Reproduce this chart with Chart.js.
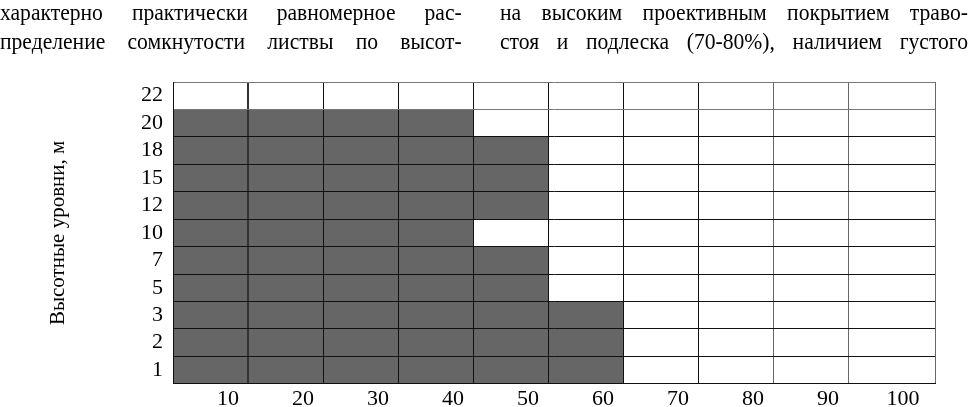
<!DOCTYPE html>
<html>
<head>
<meta charset="utf-8">
<script src="https://cdn.jsdelivr.net/npm/chart.js@4/dist/chart.umd.min.js"></script>
<style>
html,body{margin:0;padding:0;background:#fff;width:973px;height:407px;overflow:hidden;}
#c{position:absolute;left:0;top:0;}
.line{position:absolute;display:flex;justify-content:space-between;font-family:'Liberation Serif','Times New Roman',serif;font-size:24px;line-height:27px;color:#000;white-space:nowrap;transform:scaleX(0.9);transform-origin:0 0;}
</style>
</head>
<body>
<canvas id="c" width="973" height="407"></canvas>
<div class="line" style="left:0;top:-1px;width:513px;"><span>характерно</span><span>практически</span><span>равномерное</span><span>рас-</span></div>
<div class="line" style="left:0;top:28px;width:513px;"><span>пределение</span><span>сомкнутости</span><span>листвы</span><span>по</span><span>высот-</span></div>
<div class="line" style="left:500px;top:-1px;width:520px;"><span>на</span><span>высоким</span><span>проективным</span><span>покрытием</span><span>траво-</span></div>
<div class="line" style="left:500px;top:28px;width:520px;"><span>стоя</span><span>и</span><span>подлеска</span><span>(70-80%),</span><span>наличием</span><span>густого</span></div>
<script>
// Data
const heights = ['22','20','18','15','12','10','7','5','3','2','1'];
const closure = [0, 40, 50, 50, 50, 40, 50, 50, 60, 60, 60];
const xTickValues = [0, 10, 20, 30, 40, 50, 60, 70, 80, 90, 100];
const xMax = 101.6;
const yTitle = 'Высотные уровни, м';

const serif = "'Liberation Serif','Times New Roman',serif";

new Chart(document.getElementById('c'), {
  type: 'bar',
  data: {
    labels: heights,
    datasets: [{
      data: closure,
      backgroundColor: '#666666',
      borderWidth: 0,
      barPercentage: 1,
      categoryPercentage: 1
    }]
  },
  options: {
    indexAxis: 'y',
    responsive: false,
    animation: false,
    devicePixelRatio: 1,
    layout: { padding: { left: 0, right: 38, top: 82, bottom: 0 } },
    plugins: { legend: { display: false }, tooltip: { enabled: false } },
    scales: {
      x: {
        type: 'linear',
        min: 0,
        max: xMax,
        afterBuildTicks: s => { s.ticks = xTickValues.concat([xMax]).map(v => ({ value: v })); },
        afterFit: s => { s.height = 22; },
        ticks: {
          autoSkip: false,
          maxRotation: 0,
          padding: 2,
          labelOffset: -20,
          color: '#000',
          font: { family: serif, size: 22 },
          callback: v => (v === 0 || v === xMax) ? '' : String(v)
        },
        grid: {
          z: 1,
          drawTicks: false,
          lineWidth: c => (c.tick && c.tick.value === 10) ? 2 : 1,
          color: c => {
            const v = c.tick ? c.tick.value : null;
            if (v === 100) return 'rgba(0,0,0,0)';
            if (v === 80 || v === 90 || v === xMax) return '#666';
            if (v === 10) return '#333';
            return '#111';
          }
        },
        border: { display: true, color: '#111', z: 1 }
      },
      y: {
        afterFit: s => { s.width = 173; },
        ticks: {
          padding: 10,
          color: '#000',
          font: { family: serif, size: 22 }
        },
        grid: {
          z: 1,
          offset: true,
          drawTicks: false,
          color: c => (c.index === 0 || c.index === 1) ? '#777' : '#111'
        },
        border: { display: true, color: '#111', z: 1 },
        title: {
          display: true,
          text: yTitle,
          color: '#000',
          font: { family: serif, size: 21 },
          padding: { top: 46, bottom: 0 }
        }
      }
    }
  }
});
</script>
</body>
</html>
